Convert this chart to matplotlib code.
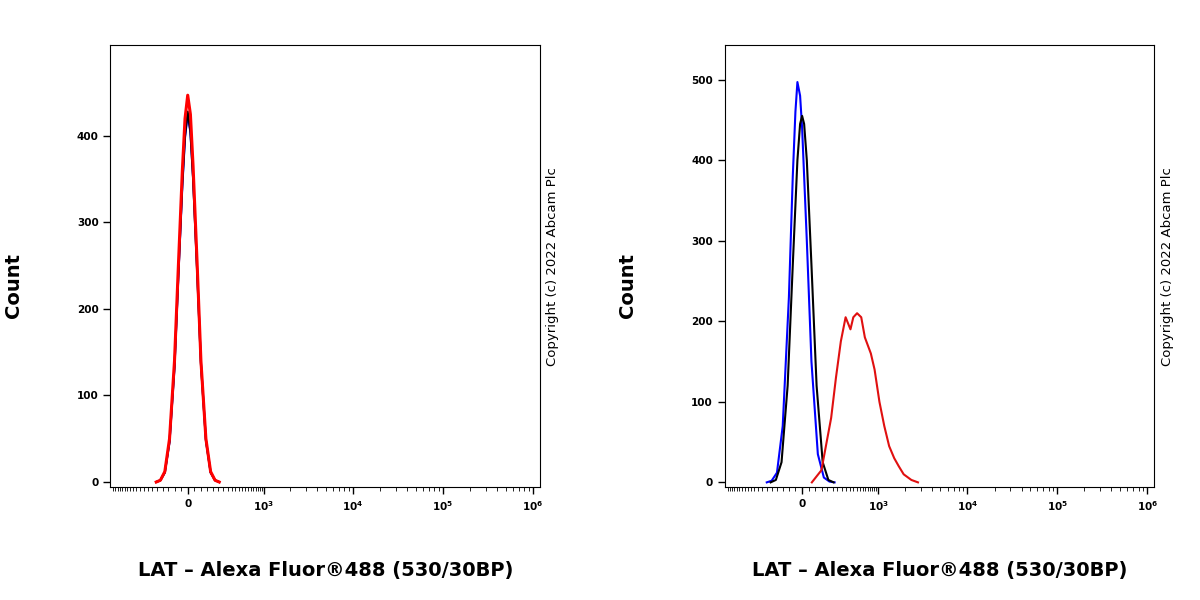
import numpy as np
import matplotlib.pyplot as plt

W = 290.0  # arcsinh width for logicle-like axis

# left panel (all three overlap)
left_x = [-260, -220, -180, -140, -100, -70, -40, -20, 0, 20, 40, 70, 100, 140, 180, 220, 260]
left_red = [0, 2, 12, 50, 140, 250, 360, 420, 447, 425, 365, 255, 140, 50, 12, 2, 0]
left_black = [0, 2, 11, 47, 134, 240, 345, 400, 428, 405, 350, 245, 136, 48, 11, 2, 0]
left_blue = [0, 2, 11, 46, 132, 238, 342, 398, 425, 404, 352, 248, 138, 49, 11, 2, 0]

# right panel
blue_x = [-300, -250, -200, -150, -100, -70, -50, -35, -15, 0, 35, 70, 120, 170, 220, 270]
blue_y = [0, 2, 12, 70, 230, 380, 460, 497, 480, 440, 300, 150, 35, 6, 1, 0]
black_x = [-260, -210, -160, -110, -70, -35, -15, 0, 15, 35, 70, 110, 160, 210, 260]
black_y = [0, 3, 25, 120, 270, 400, 445, 455, 445, 400, 270, 120, 25, 3, 0]
red_x = [73, 149, 236, 284, 337, 394, 458, 499, 557, 627, 694, 818, 905,
         1030, 1171, 1331, 1520, 1711, 1943, 2370, 2810]
red_y = [0, 15, 80, 130, 175, 205, 190, 205, 210, 205, 180, 160, 140,
         100, 70, 45, 30, 20, 10, 3, 0]

major_ticks = [0, 1e3, 1e4, 1e5, 1e6]
major_labels = ["0", "$\\mathbf{10^3}$", "$\\mathbf{10^4}$", "$\\mathbf{10^5}$", "$\\mathbf{10^6}$"]
minor_ticks = ([-v for v in range(50, 1000, 50)] + list(range(50, 1000, 50))
               + [m * 10 ** e for e in (3, 4, 5) for m in range(2, 10)])


def style_axis(ax, ymax, yticks):
    ax.set_xscale("function", functions=(lambda x: np.arcsinh(np.asarray(x) / W),
                                         lambda u: W * np.sinh(u)))
    ax.set_xlim(-1030, 1.2e6)
    ax.set_ylim(-6, ymax)
    ax.set_xticks(major_ticks)
    ax.set_xticklabels(major_labels)
    ax.set_xticks(minor_ticks, minor=True)
    ax.set_yticks(yticks)
    ax.tick_params(axis="both", labelsize=7.5, width=1, length=5, direction="out")
    ax.tick_params(axis="x", which="minor", length=3)
    for lab in ax.get_yticklabels() + ax.get_xticklabels():
        lab.set_fontweight("bold")
    ax.set_xlabel("LAT \u2013 Alexa Fluor\u00ae488 (530/30BP)", fontsize=14,
                  fontweight="bold", labelpad=35)
    ax.text(1.03, 0.5, "Copyright (c) 2022 Abcam Plc", transform=ax.transAxes,
            rotation=90, va="center", ha="center", fontsize=9.5)


fig = plt.figure(figsize=(12, 6), dpi=100)
ax1 = fig.add_axes([0.092, 0.188, 0.358, 0.737])
ax2 = fig.add_axes([0.604, 0.188, 0.358, 0.737])

ax1.plot(left_x, left_blue, color="blue", lw=1.5)
ax1.plot(left_x, left_black, color="black", lw=1.5)
ax1.plot(left_x, left_red, color="red", lw=2.2)
style_axis(ax1, 505, [0, 100, 200, 300, 400])

ax2.plot(blue_x, blue_y, color="blue", lw=1.5)
ax2.plot(black_x, black_y, color="black", lw=1.5)
ax2.plot(red_x, red_y, color="#e01010", lw=1.5)
style_axis(ax2, 543, [0, 100, 200, 300, 400, 500])

fig.text(0.011, 0.525, "Count", rotation=90, fontsize=14, fontweight="bold", va="center", ha="center")
fig.text(0.523, 0.525, "Count", rotation=90, fontsize=14, fontweight="bold", va="center", ha="center")

fig.savefig("out.png", dpi=100)
